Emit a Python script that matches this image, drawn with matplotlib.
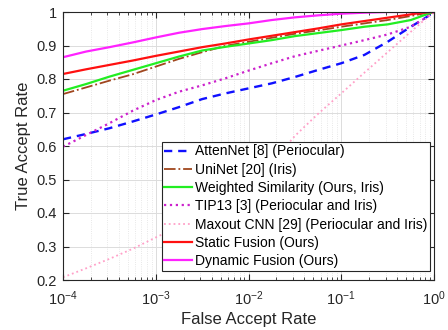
import numpy as np
import matplotlib
matplotlib.use("Agg")
import matplotlib.pyplot as plt
from matplotlib.ticker import LogLocator, FixedLocator

plt.rcParams['font.family'] = ['Liberation Sans', 'DejaVu Sans']
plt.rcParams['mathtext.fontset'] = 'custom'
plt.rcParams['mathtext.rm'] = 'Liberation Sans'
plt.rcParams['mathtext.it'] = 'Liberation Sans'

# log10(FAR) sample points and the TAR of each method at those points
log_far = [-4, -3.75, -3.5, -3.25, -3, -2.75, -2.5, -2.25, -2,
           -1.75, -1.5, -1.25, -1, -0.75, -0.5, -0.25, -0.1, 0]
atten = [0.620, 0.636, 0.653, 0.673, 0.694, 0.716, 0.740, 0.757, 0.772,
         0.787, 0.806, 0.827, 0.847, 0.872, 0.911, 0.956, 0.981, 1.0]
uninet = [0.755, 0.775, 0.795, 0.814, 0.837, 0.860, 0.880, 0.899, 0.911,
          0.923, 0.935, 0.945, 0.956, 0.966, 0.976, 0.988, 0.996, 1.0]
weighted = [0.765, 0.785, 0.807, 0.827, 0.847, 0.867, 0.885, 0.896, 0.906,
            0.916, 0.928, 0.937, 0.946, 0.956, 0.963, 0.976, 0.991, 1.0]
tip13 = [0.598, 0.633, 0.668, 0.705, 0.737, 0.762, 0.781, 0.802, 0.825,
         0.847, 0.868, 0.884, 0.900, 0.916, 0.933, 0.956, 0.981, 1.0]
maxout = [0.208, 0.235, 0.263, 0.293, 0.327, 0.360, 0.400, 0.440, 0.485,
          0.550, 0.630, 0.696, 0.757, 0.819, 0.880, 0.941, 0.977, 1.0]
static = [0.815, 0.829, 0.842, 0.855, 0.869, 0.882, 0.895, 0.906, 0.918,
          0.929, 0.940, 0.951, 0.963, 0.973, 0.983, 0.993, 0.999, 1.0]
dynamic = [0.865, 0.882, 0.895, 0.909, 0.924, 0.938, 0.949, 0.958, 0.966,
           0.976, 0.984, 0.990, 0.995, 0.998, 1.0, 1.0, 1.0, 1.0]

labels = ['AttenNet [8] (Periocular)', 'UniNet [20] (Iris)',
          'Weighted Similarity (Ours, Iris)', 'TIP13 [3] (Periocular and Iris)',
          'Maxout CNN [29] (Periocular and Iris)', 'Static Fusion (Ours)',
          'Dynamic Fusion (Ours)']

fig = plt.figure(figsize=(4.48, 3.30), dpi=100)
ax = fig.add_axes([63/448, 1-280/330, (434-63)/448, (280-12)/330])

x = 10.0 ** np.array(log_far)
ax.plot(x, atten, '--', color='#1010ff', lw=1.7, dashes=(3.5, 2.5), label=labels[0])
ax.plot(x, uninet, '-.', color='#a0461e', lw=1.3, label=labels[1])
ax.plot(x, weighted, '-', color='#22ee22', lw=1.6, label=labels[2])
ax.plot(x, tip13, ':', color='#cc22cc', lw=1.6, label=labels[3])
ax.plot(x, maxout, ':', color='#ffa0c8', lw=1.3, label=labels[4])
ax.plot(x, static, '-', color='#ff1010', lw=1.6, label=labels[5])
ax.plot(x, dynamic, '-', color='#ff22ff', lw=1.6, label=labels[6])

ax.set_xscale('log')
ax.set_xlim(1e-4, 1)
ax.set_ylim(0.2, 1)
ax.set_yticks(np.round(np.arange(0.2, 1.01, 0.1), 1))
ax.set_yticklabels(['0.2', '0.3', '0.4', '0.5', '0.6', '0.7', '0.8', '0.9', '1'])
ax.xaxis.set_major_locator(FixedLocator([1e-4, 1e-3, 1e-2, 1e-1, 1]))
ax.set_xticklabels([r'$10^{-4}$', r'$10^{-3}$', r'$10^{-2}$', r'$10^{-1}$', r'$10^{0}$'])
ax.xaxis.set_minor_locator(LogLocator(base=10, subs=np.arange(2, 10)))

ax.grid(True, which='major', color='#dcdcdc', lw=0.7)
ax.grid(True, which='minor', axis='x', color='#e0e0e0', lw=0.6, ls=':')
ax.set_axisbelow(True)

ax.tick_params(which='both', direction='in', top=True, right=True,
               colors='#262626', labelsize=10.5)
ax.tick_params(which='major', length=4)
ax.tick_params(which='minor', length=2)
ax.tick_params(axis='x', which='major', pad=7)
ax.tick_params(axis='y', which='major', pad=4.5)
for s in ax.spines.values():
    s.set_color('#262626')
    s.set_linewidth(0.8)

ax.set_xlabel('False Accept Rate', fontsize=12, color='#262626', labelpad=3)
ax.set_ylabel('True Accept Rate', fontsize=12, color='#262626', labelpad=4)

leg = ax.legend(loc='lower right', bbox_to_anchor=(430/448, 1-271/330),
                bbox_transform=fig.transFigure, fontsize=10, frameon=True,
                fancybox=False, edgecolor='#262626', framealpha=1,
                handlelength=2.0, handletextpad=0.2, labelspacing=0.31,
                borderpad=0.2, borderaxespad=0)
leg.get_frame().set_linewidth(0.8)

fig.savefig('out.png', dpi=100)
